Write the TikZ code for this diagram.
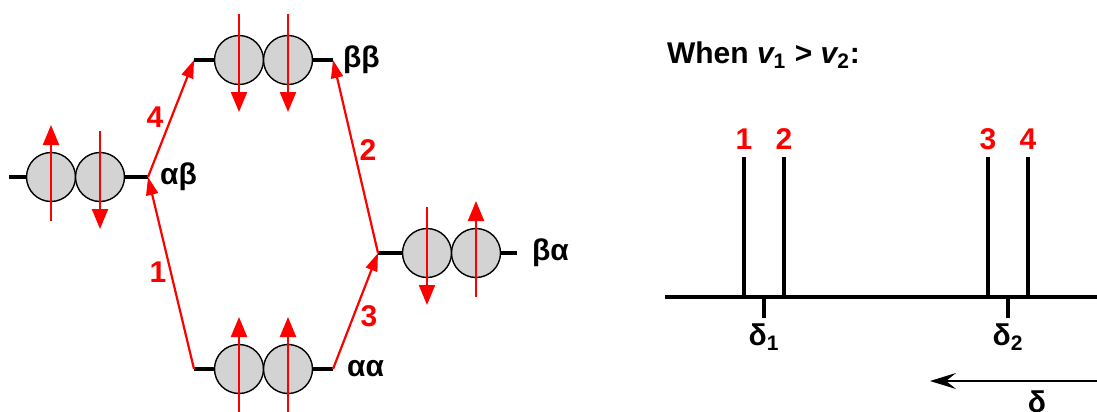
\documentclass[tikz,border=0pt]{standalone}
\usepackage{fontspec}
\setmainfont{Liberation Sans}
\usetikzlibrary{arrows.meta}
\definecolor{spinred}{HTML}{FF0000}
\definecolor{orbgray}{HTML}{D3D3D3}

\begin{document}
\begin{tikzpicture}[x=0.5pt,y=-0.5pt,font=\fontsize{15}{18}\selectfont\bfseries,
    level/.style={line width=2pt},
    orb/.style={circle,draw,line width=0.7pt,fill=orbgray,minimum size=24.5pt,inner sep=0pt},
    spin/.style={spinred,line width=1.1pt,-{Triangle[length=10pt,width=8pt]}},
    trans/.style={spinred,line width=1.1pt,-{Triangle[length=9pt,width=6pt]}},
    num/.style={text=spinred}]
  \useasboundingbox (0,0) rectangle (1097,412);
  \foreach \n/\xa/\xb/\y in {ab/9/148/177, bb/194/333/60, aa/194/333/369, ba/378/517/253} {
    \coordinate (\n L) at (\xa,\y);
    \coordinate (\n R) at (\xb,\y);
    \draw[level] (\n L) -- (\n R);
  }
  \foreach \n/\x/\y in {ab1/51/177, ab2/100/177, bb1/239/60, bb2/288/60, aa1/239/369, aa2/288/369, ba1/427/253, ba2/476/253}
    \node[orb] (\n) at (\x,\y) {};
  \foreach \n in {ab1,aa1,aa2,ba2} \draw[spin] ([yshift=-22pt]\n.center) -- ([yshift=26pt]\n.center);
  \foreach \n in {ab2,bb1,bb2,ba1} \draw[spin] ([yshift=23pt]\n.center) -- ([yshift=-26pt]\n.center);
  \node[anchor=west] (abtxt) at (153,177) {αβ};
  \node[anchor=west] (bbtxt) at (336,60) {ββ};
  \node[anchor=west] (aatxt) at (340,369) {αα};
  \node[anchor=west] (batxt) at (525,253) {βα};
  \draw[trans] (aaL) -- (abR);
  \draw[trans] (abR) -- (bbL);
  \draw[trans] (baL) -- (bbR);
  \draw[trans] (aaR) -- (baL);
  \node[num] (n1) at (158,272) {1};
  \node[num] (n4) at (155,117) {4};
  \node[num] (n2) at (368,150) {2};
  \node[num] (n3) at (369,316) {3};
  \node[anchor=west] (title) at (660,55) {When {\itshape v}\textsubscript{1} > {\itshape v}\textsubscript{2}:};
  \coordinate (axL) at (665,297);
  \coordinate (axR) at (1100,297);
  \draw[line width=2pt] (axL) -- (axR);
  \foreach \i/\x in {1/744,2/784,3/988,4/1028} {
    \coordinate (p\i) at (\x,298);
    \coordinate (t\i) at (\x,157);
    \draw[line width=2pt] (p\i) -- (t\i);
    \node[num] (l\i) at (\x,139) {\i};
  }
  \foreach \i/\x in {1/764,2/1008} {
    \coordinate (d\i) at (\x,297);
    \coordinate (e\i) at (\x,318);
    \draw[line width=2pt] (d\i) -- (e\i);
    \node (s\i) at (\x,337) {δ\textsubscript{\i}};
  }
  \coordinate (arR) at (1100,381);
  \coordinate (arL) at (930,381);
  \draw[line width=1pt,-{Stealth[length=13pt,width=8pt,inset=5pt]}] (arR) -- (arL);
  \node (dtxt) at (1037,402) {δ};
\end{tikzpicture}
\end{document}
